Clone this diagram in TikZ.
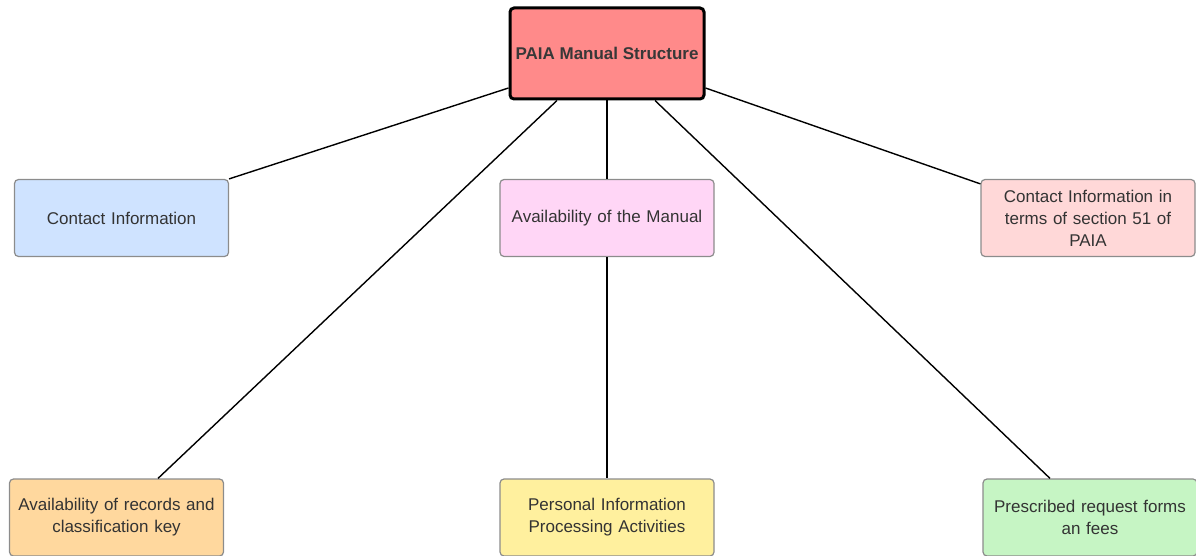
\documentclass[tikz,border=0pt]{standalone}
\usepackage{fontspec}
\setmainfont{Liberation Sans}
\definecolor{topred}{HTML}{FF8A8A}
\definecolor{ciblue}{HTML}{CFE3FF}
\definecolor{ampink}{HTML}{FFD6F6}
\definecolor{secred}{HTML}{FFD8D8}
\definecolor{recorange}{HTML}{FFD89E}
\definecolor{piyellow}{HTML}{FFF09E}
\definecolor{pfgreen}{HTML}{C6F5C4}
\definecolor{boxline}{HTML}{8C8C8C}
\tikzset{
  leaf/.style={draw=boxline, line width=1.2pt, rounded corners=4pt, minimum width=214pt,
    minimum height=77pt, align=center, text width=200pt,
    font=\fontsize{17}{22}\selectfont, text=black!80},
  root/.style={draw=black, line width=3pt, fill=topred, rounded corners=4pt, minimum width=194pt,
    minimum height=91pt, align=center, font=\fontsize{17}{22}\selectfont\bfseries, text=black!78},
  link/.style={line width=1.4pt, black}
}
\begin{document}
\begin{tikzpicture}[x=1pt,y=1pt]
\useasboundingbox (0,0) rectangle (1196,-556);
\node[root] (top) at (607,-53.5) {PAIA Manual Structure};
\node[leaf, fill=ciblue] (ci) at (121.5,-218) {Contact Information};
\node[leaf, fill=ampink] (am) at (607,-218) {Availability of the Manual};
\node[leaf, fill=secred] (sec) at (1088,-218) {Contact Information in\\terms of section 51 of\\PAIA};
\node[leaf, fill=recorange] (rec) at (116.5,-517.5) {Availability of records and\\classification key};
\node[leaf, fill=piyellow] (pi) at (607,-517.5) {Personal Information\\Processing Activities};
\node[leaf, fill=pfgreen] (pf) at (1090,-517.5) {Prescribed request forms\\an fees};
\begin{scope}[on background layer/.try]
\draw[link] ([yshift=-34.5]top.west) -- (ci.north east);
\draw[link] ([xshift=-50]top.south) -- ([xshift=41.5]rec.north);
\draw[link] (top.south) -- (am.north);
\draw[link] (am.south) -- (pi.north);
\draw[link] ([xshift=48]top.south) -- ([xshift=-40]pf.north);
\draw[link] ([yshift=-34.5]top.east) -- ([yshift=-5]sec.north west);
\end{scope}
\end{tikzpicture}
\end{document}
